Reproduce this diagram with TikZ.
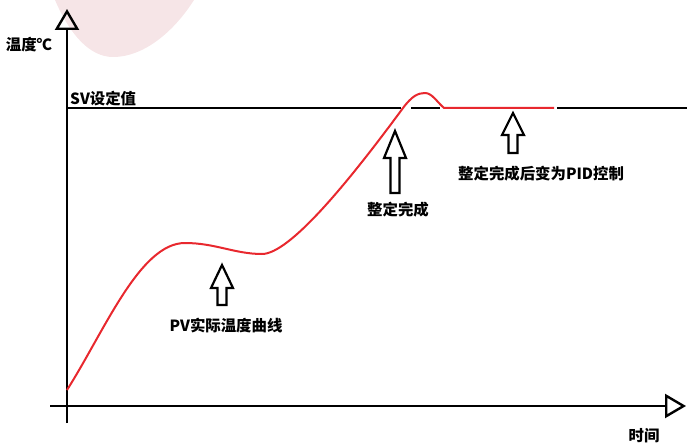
\documentclass[tikz,border=0pt]{standalone}
\usepackage{fontspec}
\newfontfamily\cjk{Noto Sans CJK SC}
\usetikzlibrary{arrows.meta,positioning}
\definecolor{pvred}{RGB}{232,40,46}
\definecolor{markpink}{RGB}{246,229,231}
\tikzstyle{axis} = [line width=2.4pt, -{Triangle[open,length=21pt,width=24pt]}]
\tikzstyle{txt} = [font=\cjk\bfseries\fontsize{15.4}{15}\selectfont, inner sep=0pt]
\tikzstyle{pv} = [draw=pvred, line width=2pt]
\tikzstyle{sv} = [draw=black, line width=2pt]
\tikzstyle{hollow} = [draw=black, fill=white, line width=2.2pt, line join=miter]

% hollow up-arrow: x, tip y, head base y, bottom y
\newcommand{\uparrowat}[4]{%
  \draw[hollow] (#1,#2) -- (#1+11,#3) -- (#1+4.5,#3) -- (#1+4.5,#4)
    -- (#1-4.5,#4) -- (#1-4.5,#3) -- (#1-11,#3) -- cycle;}

\begin{document}
\begin{tikzpicture}[x=1pt,y=-1pt]
\useasboundingbox (0,0) rectangle (687,446);
% watermark
\fill[markpink] (55,0) .. controls (70,35) and (90,57) .. (113,57)
  .. controls (145,57) and (175,30) .. (194,0) -- cycle;

% axes
\coordinate (ybot) at (67,423);
\coordinate (ytop) at (67,9);
\coordinate (xleft) at (50,406);
\coordinate (xright) at (686,406);
\draw[axis] (ybot) -- (ytop);
\draw[axis] (xleft) -- (xright);
\node (ylbl) [txt] at (29,45) {温度℃};
\node (xlbl) [txt] at (644,436) {时间};

% set value
\coordinate (sv0) at (67,108);
\coordinate (sv1) at (401,108);
\coordinate (sv2) at (411,108);
\coordinate (sv3) at (440,108);
\coordinate (pid0) at (444,108);
\coordinate (pid1) at (554,108);
\coordinate (sv4) at (557,108);
\coordinate (sv5) at (687,108);
\draw[sv] (sv0) -- (sv1);
\draw[sv] (sv2) -- (sv3);
\draw[sv] (sv4) -- (sv5);
\node (svlbl) [txt, anchor=west] at (70,99) {SV设定值};

% PV curve
\coordinate (pv0) at (67,390);
\coordinate (hump) at (185,243);
\coordinate (dip) at (262,254);
\coordinate (cross) at (403,108);
\coordinate (over) at (425,93);
\draw[pv, line join=round] (pv0) .. controls (105,330) and (140,243) .. (hump)
  .. controls (215,243) and (235,254) .. (dip)
  .. controls (290,254) and (350,180) .. (cross)
  .. controls (412,96) and (418,93) .. (over)
  .. controls (432,93) and (437,102) .. (pid0) -- (pid1);

% arrows and labels
\uparrowat{222}{265}{288}{305}
\node (pvlbl) [txt] at (226,326) {PV实际温度曲线};
\uparrowat{395}{131}{158}{193}
\node (donelbl) [txt] at (398,210) {整定完成};
\uparrowat{513}{113}{135}{153}
\node (pidlbl) [txt, anchor=west] at (458,174) {整定完成后变为PID控制};
\end{tikzpicture}
\end{document}
